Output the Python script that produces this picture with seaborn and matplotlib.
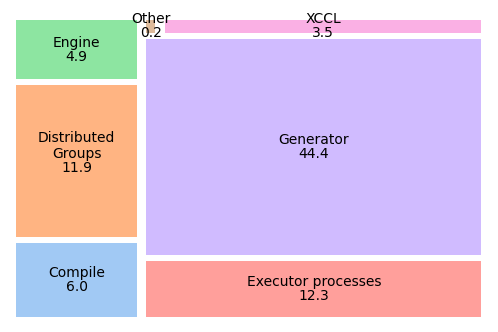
import textwrap
import matplotlib
matplotlib.use("Agg")
from matplotlib import pyplot as plt
import seaborn as sns

# treemap data (alphabetical order, laid out as given)
labels = ['Compile', 'Distributed Groups', 'Engine', 'Executor processes',
          'Generator', 'Other', 'XCCL']
values = [6.0, 11.9, 4.9, 12.3, 44.4, 0.2, 3.5]

colors = sns.color_palette('pastel', len(labels))


# squarified layout, same rules as the squarify package
def layout(sizes, x, y, dx, dy):
    rects = []
    if dx >= dy:
        w = sum(sizes) / dy
        for s in sizes:
            rects.append([x, y, w, s / w])
            y += s / w
    else:
        h = sum(sizes) / dx
        for s in sizes:
            rects.append([x, y, s / h, h])
            x += s / h
    return rects


def leftover(sizes, x, y, dx, dy):
    if dx >= dy:
        w = sum(sizes) / dy
        return x + w, y, dx - w, dy
    h = sum(sizes) / dx
    return x, y + h, dx, dy - h


def worst(sizes, x, y, dx, dy):
    return max(max(r[2] / r[3], r[3] / r[2]) for r in layout(sizes, x, y, dx, dy))


def squarify(sizes, x, y, dx, dy):
    if len(sizes) == 0:
        return []
    if len(sizes) == 1:
        return layout(sizes, x, y, dx, dy)
    i = 1
    while i < len(sizes) and worst(sizes[:i], x, y, dx, dy) >= worst(sizes[:i + 1], x, y, dx, dy):
        i += 1
    lx, ly, ldx, ldy = leftover(sizes[:i], x, y, dx, dy)
    return layout(sizes[:i], x, y, dx, dy) + squarify(sizes[i:], lx, ly, ldx, ldy)


total = sum(values)
normed = [v * 100 * 100 / total for v in values]
rects = squarify(normed, 0, 0, 100, 100)
for r in rects:
    if r[2] > 2:
        r[0] += 1
        r[2] -= 2
    if r[3] > 2:
        r[1] += 1
        r[3] -= 2

fig = plt.figure(figsize=(4.98, 3.32), dpi=100)
ax = fig.add_axes([0.0232, 0.036, 0.9528, 0.9127])
ax.bar([r[0] for r in rects], [r[3] for r in rects], width=[r[2] for r in rects],
       bottom=[r[1] for r in rects], color=colors, align='edge')

for lab, val, r in zip(labels, values, rects):
    txt = textwrap.fill(lab, 12) if r[2] < 40 else lab
    cx, cy = r[0] + r[2] / 2, r[1] + r[3] / 2
    ax.text(cx, cy, str(val), ha='center', va='top', fontsize=10)
    ax.text(cx, cy, txt, ha='center', va='bottom', fontsize=10)

ax.set_xlim(0, 100)
ax.set_ylim(0, 100)
ax.axis('off')

plt.savefig('out.png', dpi=100)
